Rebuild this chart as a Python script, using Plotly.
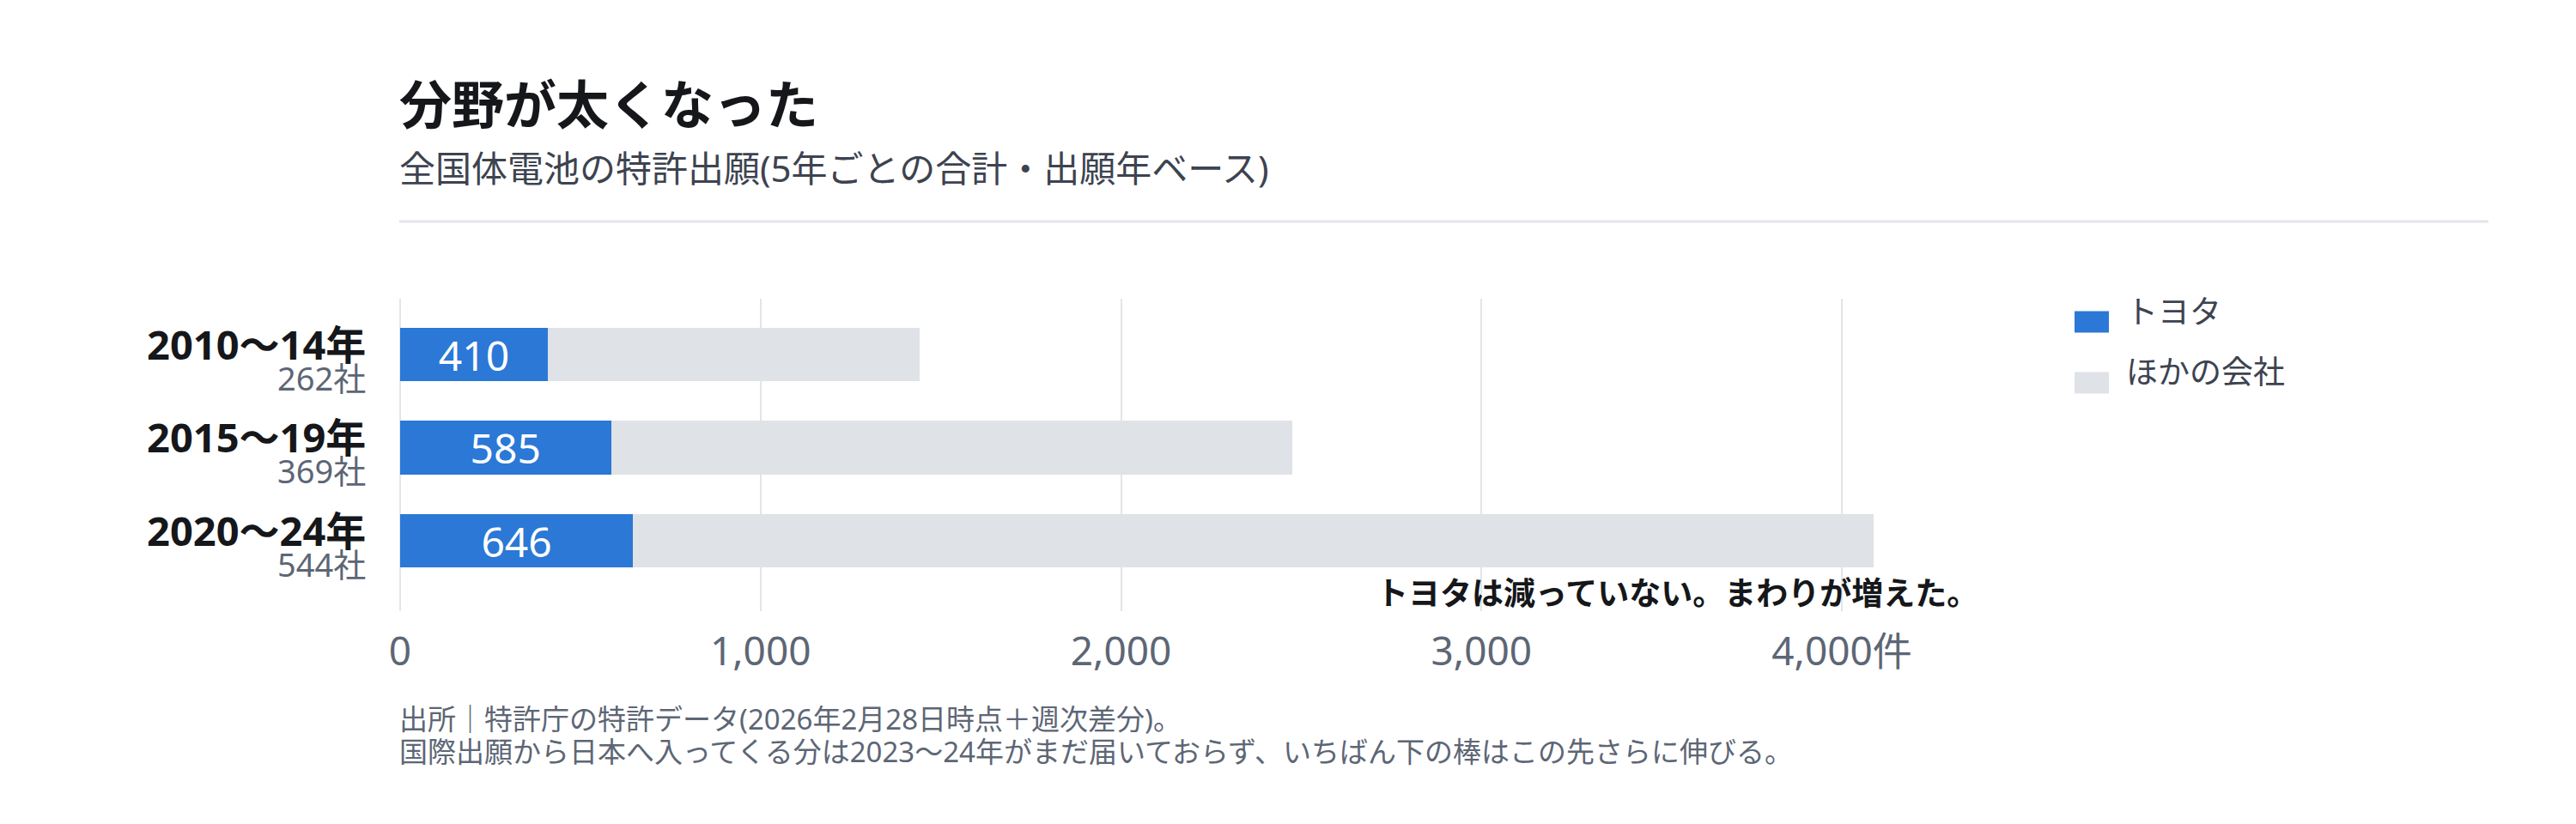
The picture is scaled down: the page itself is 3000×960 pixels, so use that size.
import plotly.graph_objects as go

# ---- data ----
periods = ["2010～14年", "2015～19年", "2020～24年"]
companies = ["262社", "369社", "544社"]
toyota = [410, 585, 646]
others = [1032, 1891, 3441]
tick_vals = [0, 1000, 2000, 3000, 4000]
tick_text = ["0", "1,000", "2,000", "3,000", "4,000件"]
series_names = ["トヨタ", "ほかの会社"]

title = "分野が太くなった"
subtitle = "全国体電池の特許出願(5年ごとの合計・出願年ベース)"
note = "トヨタは減っていない。まわりが増えた。"
source_lines = [
    "出所｜特許庁の特許データ(2026年2月28日時点＋週次差分)。",
    "国際出願から日本へ入ってくる分は2023～24年がまだ届いておらず、いちばん下の棒はこの先さらに伸びる。",
]

# ---- style ----
OFF = 8                      # page body margin
W, H = 2984, 944
L, RE, T, BE = 466, 2229, 348, 712   # page pixel positions of plot area
PW, PH = RE - L, BE - T
BLUE = "#2b78d6"
GRAY = "#dfe2e6"
INK = "#15171a"
SUB = "#3d4350"
MUTED = "#5d6675"
FONT = "Noto Sans, Noto Sans CJK JP, sans-serif"


def px(x):
    return (x - L) / PW


def py(y):
    return (BE - y) / PH


fig = go.Figure()
fig.add_trace(go.Bar(
    y=periods, x=toyota, orientation="h", name=series_names[0],
    marker=dict(color=BLUE, line=dict(width=0)), width=0.576,
    text=[str(v) for v in toyota], textposition="inside",
    insidetextanchor="middle", constraintext="none",
    textfont=dict(family=FONT, size=48, color="white"),
    showlegend=False,
))
fig.add_trace(go.Bar(
    y=periods, x=others, orientation="h", name=series_names[1],
    marker=dict(color=GRAY, line=dict(width=0)), width=0.576,
    showlegend=False,
))

annotations = []
annotations.append(dict(text=f"<b>{title}</b>", xref="paper", yref="paper",
                        x=px(463), y=py(121), xanchor="left", yanchor="middle",
                        showarrow=False, font=dict(family=FONT, size=61, color=INK)))
annotations.append(dict(text=subtitle, xref="paper", yref="paper",
                        x=px(463), y=py(196), xanchor="left", yanchor="middle",
                        showarrow=False, font=dict(family=FONT, size=42, color=SUB)))
for p, c in zip(periods, companies):
    label = (f"<span style='font-size:47px;font-weight:bold;color:{INK}'>{p}</span><br>"
             f"<span style='font-size:38px;color:{MUTED}'>{c}</span>")
    annotations.append(dict(text=label, xref="paper", yref="y", align="right",
                            x=px(428), y=p, yshift=-4, xanchor="right", yanchor="middle",
                            showarrow=False, font=dict(family=FONT, size=28, color=INK)))
annotations.append(dict(text=f"<b>{note}</b>", xref="paper", yref="paper",
                        x=px(2306), y=py(690), xanchor="right", yanchor="middle",
                        showarrow=False, font=dict(family=FONT, size=37, color=INK)))
legend_y = [362, 432]
for name, yy in zip(series_names, legend_y):
    annotations.append(dict(text=name, xref="paper", yref="paper",
                            x=px(2474), y=py(yy), xanchor="left", yanchor="middle",
                            showarrow=False, font=dict(family=FONT, size=37, color=SUB)))
for i, line in enumerate(source_lines):
    annotations.append(dict(text=line, xref="paper", yref="paper",
                            x=px(463), y=py(837 + 38 * i), xanchor="left", yanchor="middle",
                            showarrow=False, font=dict(family=FONT, size=33, color=MUTED)))

shapes = [
    dict(type="line", xref="paper", yref="paper", x0=px(465), x1=px(2898),
         y0=py(258), y1=py(258), line=dict(color="#e2e5e9", width=3)),
]
for col, yy in zip([BLUE, GRAY], [375, 446]):
    shapes.append(dict(type="rect", xref="paper", yref="paper",
                       x0=px(2416), x1=px(2456), y0=py(yy - 12.5), y1=py(yy + 12.5),
                       line=dict(width=0), fillcolor=col))

fig.update_layout(
    width=W, height=H,
    margin=dict(l=L - OFF, r=W - (RE - OFF), t=T - OFF, b=H - (BE - OFF), pad=0),
    paper_bgcolor="white", plot_bgcolor="white",
    barmode="stack",
    font=dict(family=FONT, color=INK),
    annotations=annotations, shapes=shapes,
    xaxis=dict(range=[0, 4200], tickvals=tick_vals, ticktext=tick_text,
               showgrid=True, gridcolor="#e3e5e8", gridwidth=2,
               zeroline=True, zerolinecolor="#e3e5e8", zerolinewidth=2,
               showline=False, ticks="", ticklabelstandoff=16,
               tickfont=dict(family=FONT, size=46, color=MUTED)),
    yaxis=dict(categoryorder="array", categoryarray=periods,
               range=[2.756, -0.6], showticklabels=False, showgrid=False,
               zeroline=False, showline=False, ticks=""),
)

fig.write_html("out.html")
